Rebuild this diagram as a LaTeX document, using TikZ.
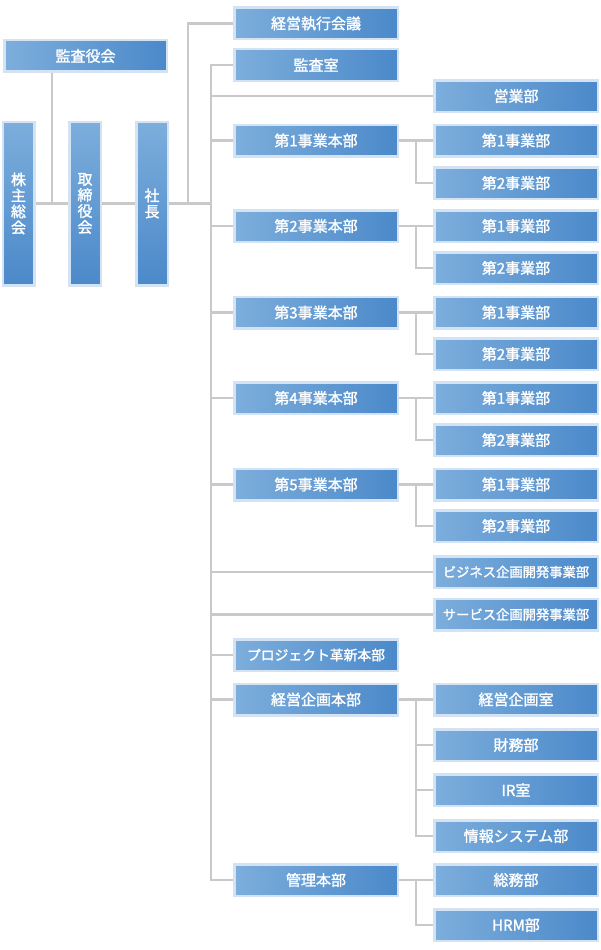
\documentclass[tikz,border=0pt]{standalone}
\usepackage{fontspec}
\newfontfamily\jp{Noto Sans CJK JP}[FakeBold=1.5]
\usetikzlibrary{calc}
\definecolor{azzurro}{HTML}{7DAEDC}
\definecolor{blu}{HTML}{4B89CA}
\definecolor{bordo}{HTML}{D3E3F3}
\definecolor{grigio}{HTML}{C9C9C9}

\begin{document}
\begin{tikzpicture}[x=1pt,y=-1pt,
        casella/.style={draw=bordo,line width=2.5pt,left color=azzurro,right color=blu,text=white,inner sep=0pt,minimum width=163.5pt,minimum height=31.5pt,font=\jp\fontsize{15}{16}\selectfont},
        verticale/.style={casella,top color=azzurro,bottom color=blu,minimum width=31.5pt,minimum height=163.5pt,align=center,font=\jp\fontsize{15}{16}\selectfont},
        piccolo/.style={font=\jp\fontsize{13.3}{15}\selectfont},
        linea/.style={grigio,line width=2.5pt}]
        \fill[white] (0,0) rectangle (600,950);
        \useasboundingbox (0,0) rectangle (600,950);

        % colonna sinistra
        \node[casella,minimum width=162.5pt] (kansayaku) at (85.5,56) {監査役会};
        \node[verticale] (kabunushi) at (18.5,203.5) {株\\主\\総\\会};
        \node[verticale] (torishimari) at (85,203.5) {取\\締\\役\\会};
        \node[verticale] (shacho) at (152,203.5) {社\\長};

        % colonna centrale
        \node[casella] (shikkou) at (316,23.5) {経営執行会議};
        \node[casella] (kansashitsu) at (316,65) {監査室};
        \node[casella] (hq1) at (316,140.5) {第1事業本部};
        \node[casella] (hq2) at (316,226) {第2事業本部};
        \node[casella] (hq3) at (316,312.5) {第3事業本部};
        \node[casella] (hq4) at (316,398) {第4事業本部};
        \node[casella] (hq5) at (316,484.5) {第5事業本部};
        \node[casella,font=\jp\fontsize{13.8}{15}\selectfont] (progetto) at (316,655) {プロジェクト革新本部};
        \node[casella] (kikaku) at (316,699.5) {経営企画本部};
        \node[casella] (kanri) at (316,880) {管理本部};

        % colonna destra
        \node[casella] (eigyo) at (516,96) {営業部};
        \node[casella] (d11) at (516,140.5) {第1事業部};
        \node[casella] (d12) at (516,183) {第2事業部};
        \node[casella] (d21) at (516,226) {第1事業部};
        \node[casella] (d22) at (516,268) {第2事業部};
        \node[casella] (d31) at (516,312.5) {第1事業部};
        \node[casella] (d32) at (516,354) {第2事業部};
        \node[casella] (d41) at (516,398) {第1事業部};
        \node[casella] (d42) at (516,440) {第2事業部};
        \node[casella] (d51) at (516,484.5) {第1事業部};
        \node[casella] (d52) at (516,526) {第2事業部};
        \node[casella,piccolo] (business) at (516,572) {ビジネス企画開発事業部};
        \node[casella,piccolo] (servizi) at (516,614.5) {サービス企画開発事業部};
        \node[casella] (kk1) at (516,699.5) {経営企画室};
        \node[casella] (kk2) at (516,745) {財務部};
        \node[casella] (kk3) at (516,790) {IR室};
        \node[casella] (kk4) at (516,836) {情報システム部};
        \node[casella] (km1) at (516,880) {総務部};
        \node[casella] (km2) at (516,925) {HRM部};

        % collegamenti a sinistra
        \coordinate (g1) at ($(kabunushi.east)!.5!(torishimari.west)$);
        \draw[linea] (g1) -- (g1 |- kansayaku.south);
        \draw[linea] (kabunushi.east) -- (torishimari.west);
        \draw[linea] (torishimari.east) -- (shacho.west);

        % tronco principale
        \coordinate (tronco) at ($(kansashitsu.west)+(-22,0)$);
        \coordinate (ramo) at ($(shacho.east)+(19,0)$);
        \draw[linea] (shacho.east) -- (shacho.east -| tronco);
        \draw[linea] (ramo) |- (shikkou.west);
        \draw[linea] (kansashitsu.west) -| (kanri.west -| tronco) -- (kanri.west);
        \draw[linea] (tronco |- eigyo.west) -- (eigyo.west);
        \draw[linea] (tronco |- hq1.west) -- (hq1.west);
        \draw[linea] (tronco |- hq2.west) -- (hq2.west);
        \draw[linea] (tronco |- hq3.west) -- (hq3.west);
        \draw[linea] (tronco |- hq4.west) -- (hq4.west);
        \draw[linea] (tronco |- hq5.west) -- (hq5.west);
        \draw[linea] (tronco |- business.west) -- (business.west);
        \draw[linea] (tronco |- servizi.west) -- (servizi.west);
        \draw[linea] (tronco |- progetto.west) -- (progetto.west);
        \draw[linea] (tronco |- kikaku.west) -- (kikaku.west);

        % rami dei reparti
        \draw[linea] (hq1.east) -- (d11.west);
        \draw[linea] ($(d11.west)+(-17,0)$) |- (d12.west);
        \draw[linea] (hq2.east) -- (d21.west);
        \draw[linea] ($(d21.west)+(-17,0)$) |- (d22.west);
        \draw[linea] (hq3.east) -- (d31.west);
        \draw[linea] ($(d31.west)+(-17,0)$) |- (d32.west);
        \draw[linea] (hq4.east) -- (d41.west);
        \draw[linea] ($(d41.west)+(-17,0)$) |- (d42.west);
        \draw[linea] (hq5.east) -- (d51.west);
        \draw[linea] ($(d51.west)+(-17,0)$) |- (d52.west);
        \draw[linea] (kikaku.east) -- (kk1.west);
        \draw[linea] ($(kk1.west)+(-17,0)$) |- (kk2.west);
        \draw[linea] ($(kk1.west)+(-17,0)$) |- (kk3.west);
        \draw[linea] ($(kk1.west)+(-17,0)$) |- (kk4.west);
        \draw[linea] (kanri.east) -- (km1.west);
        \draw[linea] ($(km1.west)+(-17,0)$) |- (km2.west);
    \end{tikzpicture}
\end{document}
